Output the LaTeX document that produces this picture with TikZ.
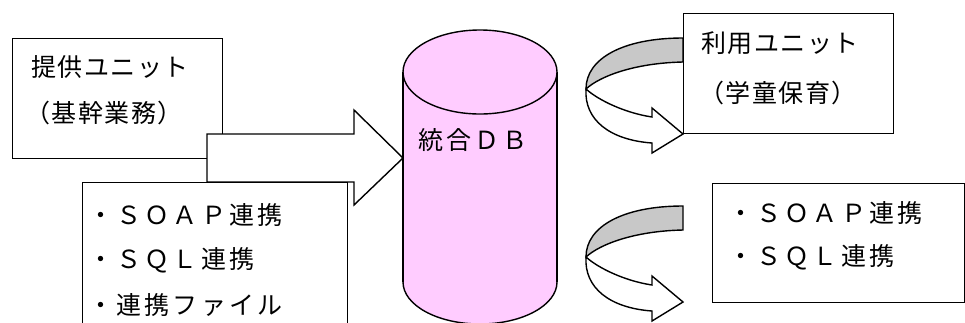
\documentclass[tikz,border=0pt]{standalone}
\usepackage{fontspec}
\newfontfamily\jpfont[LetterSpace=6]{Noto Sans CJK JP}
\newfontfamily\jpwide[LetterSpace=13]{Noto Sans CJK JP}
\definecolor{dbpink}{HTML}{FFCCFF}
\definecolor{bandgray}{HTML}{C8C8C8}
\begin{document}
\begin{tikzpicture}[x=1pt,y=-1pt,line join=miter,
  outline/.style={draw=black,line width=1.4pt},
  label/.style={anchor=west,inner sep=0pt,font=\jpfont\fontsize{25}{30}\selectfont},
  widelabel/.style={anchor=west,inner sep=0pt,font=\jpwide\fontsize{25}{30}\selectfont}]
\useasboundingbox (0,0) rectangle (965,322);
\clip (0,0) rectangle (965,322);

% source unit box
\node[outline,fill=white,anchor=north west,minimum width=210,minimum height=120,inner sep=0pt] (src) at (12,38) {};
\node[label] (srcA) at (31,67) {提供ユニット};
\node[label] (srcB) at (25,113) {（基幹業務）};

% wide block arrow into the database
\path[outline,fill=white] (207,134) -- (354,134) -- (354,110) -- (403,158)
  -- (354,205) -- (354,182) -- (207,182) -- cycle;

% provided interfaces box (runs past the lower edge)
\node[outline,fill=white,anchor=north west,minimum width=265,minimum height=170,inner sep=0pt] (ifl) at (82,182) {};
\node[widelabel] (iflA) at (88,215) {・ＳＯＡＰ連携};
\node[widelabel] (iflB) at (88,260) {・ＳＱＬ連携};
\node[widelabel] (iflC) at (88,305) {・連携ファイル};

% integrated database cylinder
\path[outline,fill=dbpink] (480,282) ellipse [x radius=77,y radius=42];
\fill[dbpink] (403,72) rectangle (557,282);
\draw[line width=1.4pt] (403,72) -- (403,282) (557,72) -- (557,282);
\path[outline,fill=dbpink] (480,72) ellipse [x radius=77,y radius=42];
\node[widelabel] (db) at (418,140) {統合ＤＢ};

% U-turn ribbon arrows on the right
\foreach \dy in {0,168} {
  \begin{scope}[yshift=-\dy pt]
    \path[outline,fill=bandgray] (683,38) .. controls (624,38) and (586,58) .. (586,89)
      .. controls (600,76) and (635,63) .. (683,62) -- cycle;
    \path[outline,fill=white] (586,89) .. controls (598,100) and (625,113) .. (652,117)
      -- (652,108) -- (683,134) -- (652,153) -- (652,143)
      .. controls (610,140) and (584,120) .. (586,89) -- cycle;
  \end{scope}
}

% user unit box
\node[outline,fill=white,anchor=north west,minimum width=210,minimum height=120,inner sep=0pt] (use) at (683,13) {};
\node[label] (useA) at (701,43) {利用ユニット};
\node[label] (useB) at (699,93) {（学童保育）};

% used interfaces box
\node[outline,fill=white,anchor=north west,minimum width=252,minimum height=119,inner sep=0pt] (ifr) at (712,183) {};
\node[widelabel] (ifrA) at (728,213) {・ＳＯＡＰ連携};
\node[widelabel] (ifrB) at (728,257) {・ＳＱＬ連携};
\end{tikzpicture}
\end{document}
